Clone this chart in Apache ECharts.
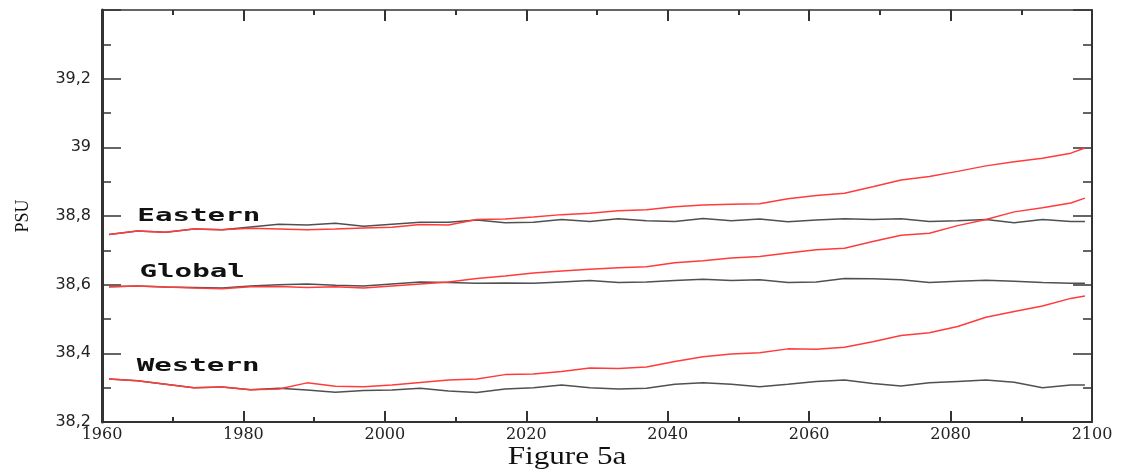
<!DOCTYPE html>
<html>
<head>
<meta charset="utf-8">
<script src="https://cdn.jsdelivr.net/npm/echarts@6/dist/echarts.min.js"></script>
<style>
  html, body { margin: 0; padding: 0; background: #fff; }
  #chart { width: 1127px; height: 475px; }
</style>
</head>
<body>
<div id="chart"></div>
<script>
var years = [1961, 1965, 1969, 1973, 1977, 1981, 1985, 1989, 1993, 1997, 2001, 2005,
  2009, 2013, 2017, 2021, 2025, 2029, 2033, 2037, 2041, 2045, 2049, 2053,
  2057, 2061, 2065, 2069, 2073, 2077, 2081, 2085, 2089, 2093, 2097, 2099];

// scenario runs (red)
var easternRed = [38.746, 38.756, 38.753, 38.762, 38.760, 38.764, 38.762, 38.760, 38.762, 38.765, 38.767, 38.775,
  38.774, 38.790, 38.791, 38.797, 38.804, 38.808, 38.815, 38.818, 38.827, 38.832, 38.834, 38.836,
  38.850, 38.860, 38.866, 38.885, 38.905, 38.915, 38.930, 38.946, 38.958, 38.968, 38.983, 38.998];
var globalRed = [38.594, 38.596, 38.593, 38.590, 38.588, 38.594, 38.595, 38.592, 38.594, 38.590, 38.596, 38.602,
  38.608, 38.618, 38.625, 38.634, 38.640, 38.645, 38.649, 38.652, 38.664, 38.670, 38.678, 38.682,
  38.692, 38.702, 38.706, 38.726, 38.744, 38.750, 38.772, 38.790, 38.812, 38.824, 38.838, 38.852];
var westernRed = [38.325, 38.320, 38.310, 38.300, 38.302, 38.294, 38.296, 38.314, 38.304, 38.303, 38.308, 38.315,
  38.322, 38.325, 38.338, 38.340, 38.347, 38.357, 38.356, 38.360, 38.376, 38.390, 38.398, 38.402,
  38.413, 38.412, 38.418, 38.434, 38.452, 38.460, 38.478, 38.505, 38.522, 38.538, 38.560, 38.567];

// control runs (black)
var easternBlack = [38.746, 38.756, 38.753, 38.762, 38.760, 38.768, 38.776, 38.774, 38.779, 38.770, 38.776, 38.782,
  38.782, 38.788, 38.780, 38.782, 38.790, 38.784, 38.792, 38.786, 38.784, 38.793, 38.786, 38.791,
  38.783, 38.788, 38.792, 38.790, 38.792, 38.784, 38.786, 38.790, 38.780, 38.790, 38.784, 38.784];
var globalBlack = [38.594, 38.596, 38.593, 38.592, 38.590, 38.596, 38.600, 38.602, 38.598, 38.596, 38.602, 38.608,
  38.606, 38.604, 38.605, 38.604, 38.608, 38.612, 38.606, 38.608, 38.612, 38.616, 38.612, 38.614,
  38.606, 38.608, 38.618, 38.617, 38.614, 38.606, 38.610, 38.613, 38.610, 38.606, 38.604, 38.604];
var westernBlack = [38.325, 38.320, 38.310, 38.300, 38.302, 38.294, 38.298, 38.293, 38.287, 38.292, 38.293, 38.298,
  38.290, 38.286, 38.296, 38.300, 38.308, 38.300, 38.296, 38.298, 38.310, 38.314, 38.310, 38.303,
  38.310, 38.318, 38.322, 38.312, 38.305, 38.314, 38.318, 38.322, 38.316, 38.300, 38.308, 38.308];

var regionNames = ['Eastern', 'Global', 'Western'];
var axisColor = '#333';
var redColor = '#ff3b3b';
var blackColor = '#505050';

function pairs(vals) {
  return years.map(function (y, i) { return [y, vals[i]]; });
}

function lineSeries(name, vals, color, z) {
  return {
    name: name,
    type: 'line',
    data: pairs(vals),
    showSymbol: false,
    symbol: 'none',
    z: z,
    lineStyle: { color: color, width: 1.5 }
  };
}

var chart = echarts.init(document.getElementById('chart'));

var xCommon = {
  type: 'value',
  min: 1960,
  max: 2100,
  interval: 20,
  splitLine: { show: false },
  axisLine: { show: true, onZero: false, lineStyle: { color: axisColor, width: 2 } },
  axisTick: { show: true, inside: true, length: 11, lineStyle: { color: axisColor, width: 2 } },
  minorTick: { show: true, splitNumber: 2, length: 5, lineStyle: { color: axisColor, width: 2 } }
};
var yCommon = {
  type: 'value',
  min: 38.2,
  max: 39.4,
  interval: 0.2,
  splitLine: { show: false },
  axisTick: { show: true, inside: true, length: 19, lineStyle: { color: axisColor, width: 1.5 } },
  minorTick: { show: true, splitNumber: 2, length: 9, lineStyle: { color: axisColor, width: 1.5 } }
};

chart.setOption({
  backgroundColor: '#fff',
  animation: false,
  grid: { left: 102, right: 35, top: 10, bottom: 53 },
  xAxis: [
    echarts.util.merge({
      position: 'bottom',
      axisLabel: {
        color: '#222',
        fontFamily: 'DejaVu Serif',
        fontSize: 16,
        margin: 5,
        formatter: function (v) { return String(v); }
      }
    }, xCommon, true),
    echarts.util.merge({
      position: 'top',
      axisLabel: { show: false },
      axisLine: { lineStyle: { width: 1.5 } }
    }, xCommon, false)
  ],
  yAxis: [
    echarts.util.merge({
      position: 'left',
      axisLine: { show: true, onZero: false, lineStyle: { color: axisColor, width: 3 } },
      axisLabel: {
        color: '#222',
        fontFamily: 'DejaVu Sans',
        fontSize: 16,
        margin: 11,
        formatter: function (v) {
          if (v > 39.3) return '';
          return String(Number(v.toFixed(1))).replace('.', ',');
        }
      },
      name: 'PSU',
      nameLocation: 'middle',
      nameRotate: 90,
      nameGap: 70,
      nameTextStyle: { color: '#111', fontFamily: 'Liberation Serif', fontSize: 18 }
    }, yCommon, true),
    echarts.util.merge({
      position: 'right',
      axisLine: { show: true, onZero: false, lineStyle: { color: axisColor, width: 2 } },
      axisLabel: { show: false }
    }, yCommon, true)
  ],
  series: [
    lineSeries('Eastern control', easternBlack, blackColor, 2),
    lineSeries('Global control', globalBlack, blackColor, 2),
    lineSeries('Western control', westernBlack, blackColor, 2),
    lineSeries('Eastern scenario', easternRed, redColor, 3),
    lineSeries('Global scenario', globalRed, redColor, 3),
    lineSeries('Western scenario', westernRed, redColor, 3)
  ]
});

// region labels anchored in data coordinates
var labelAnchors = [[1965, 38.800], [1965.3, 38.635], [1964.9, 38.362]];
var graphics = regionNames.map(function (name, i) {
  var p = chart.convertToPixel({ xAxisIndex: 0, yAxisIndex: 0 }, labelAnchors[i]);
  return {
    type: 'text',
    x: p[0],
    y: p[1],
    scaleX: 1.62,
    z: 10,
    style: {
      text: name,
      fill: '#111',
      font: 'bold 18px "DejaVu Sans Mono"',
      align: 'left',
      verticalAlign: 'middle'
    }
  };
});
graphics.push({
  type: 'text',
  x: 567,
  y: 457,
  scaleX: 1.2,
  style: {
    text: 'Figure 5a',
    fill: '#111',
    font: '26px "Liberation Serif"',
    align: 'center',
    verticalAlign: 'middle'
  }
});
chart.setOption({ graphic: graphics });
</script>
</body>
</html>
